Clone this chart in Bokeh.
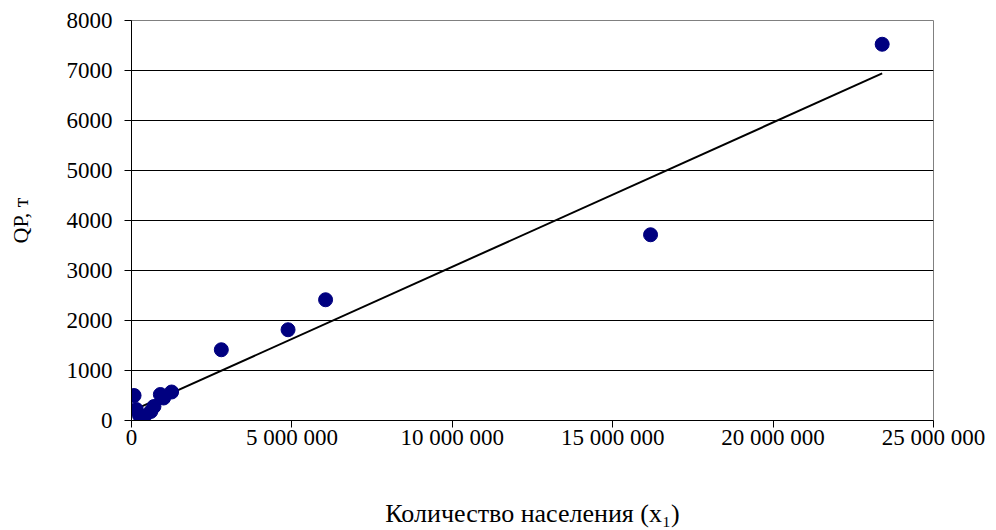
import numpy as np
from bokeh.plotting import figure
from bokeh.models import FixedTicker, Range1d
from bokeh.embed import file_html
from bokeh.resources import INLINE

population = [80000, 150000, 250000, 300000, 400000, 600000, 700000, 900000, 1000000, 1250000,
              2800000, 4880000, 6050000, 16180000, 23400000]
q_tonnes = [500, 220, 100, 50, 80, 180, 280, 520, 450, 570,
            1415, 1815, 2415, 3715, 7525]

x_ticks = [0, 5000000, 10000000, 15000000, 20000000, 25000000]
x_tick_labels = ["0", "5 000 000", "10 000 000", "15 000 000", "20 000 000", "25 000 000"]
y_ticks = [0, 1000, 2000, 3000, 4000, 5000, 6000, 7000, 8000]

FONT = "Liberation Serif"

p = figure(width=996, height=530, output_backend="svg", toolbar_location=None,
           x_range=Range1d(0, 25000000), y_range=Range1d(0, 8000),
           min_border_left=131, min_border_right=63, min_border_top=20, min_border_bottom=109)
p.outline_line_color = "#808080"
p.outline_line_width = 1

# linear trend line (least squares)
slope, intercept = np.polyfit(population, q_tonnes, 1)
xs = [min(population), max(population)]
p.line(xs, [slope * v + intercept for v in xs], line_color="black", line_width=2)

p.scatter(population, q_tonnes, size=14, fill_color="#000080", line_color="#000080")

p.xgrid.grid_line_color = None
p.ygrid.grid_line_color = "black"
p.ygrid.grid_line_width = 1
p.ygrid.ticker = FixedTicker(ticks=y_ticks)

p.xaxis.ticker = FixedTicker(ticks=x_ticks)
p.xaxis.major_label_overrides = {t: l for t, l in zip(x_ticks, x_tick_labels)}
p.yaxis.ticker = FixedTicker(ticks=y_ticks)

for ax in (p.xaxis[0], p.yaxis[0]):
    ax.axis_line_color = "black"
    ax.major_tick_line_color = "black"
    ax.major_tick_out = 7
    ax.major_tick_in = 0
    ax.minor_tick_line_color = None
    ax.major_label_text_font = FONT
    ax.major_label_text_font_size = "23px"
    ax.major_label_text_color = "black"
    ax.axis_label_text_font = FONT
    ax.axis_label_text_font_style = "normal"
    ax.axis_label_text_color = "black"

p.xaxis.axis_label = "Количество населения (x₁)"
p.xaxis.axis_label_text_font_size = "26px"
p.xaxis.axis_label_standoff = 46
p.xaxis.major_label_standoff = -3
p.yaxis.axis_label = "QР, т"
p.yaxis.axis_label_text_font_size = "22px"
p.yaxis.axis_label_standoff = 31
p.yaxis.major_label_standoff = 12

open("out.html", "w").write(file_html(p, INLINE))
